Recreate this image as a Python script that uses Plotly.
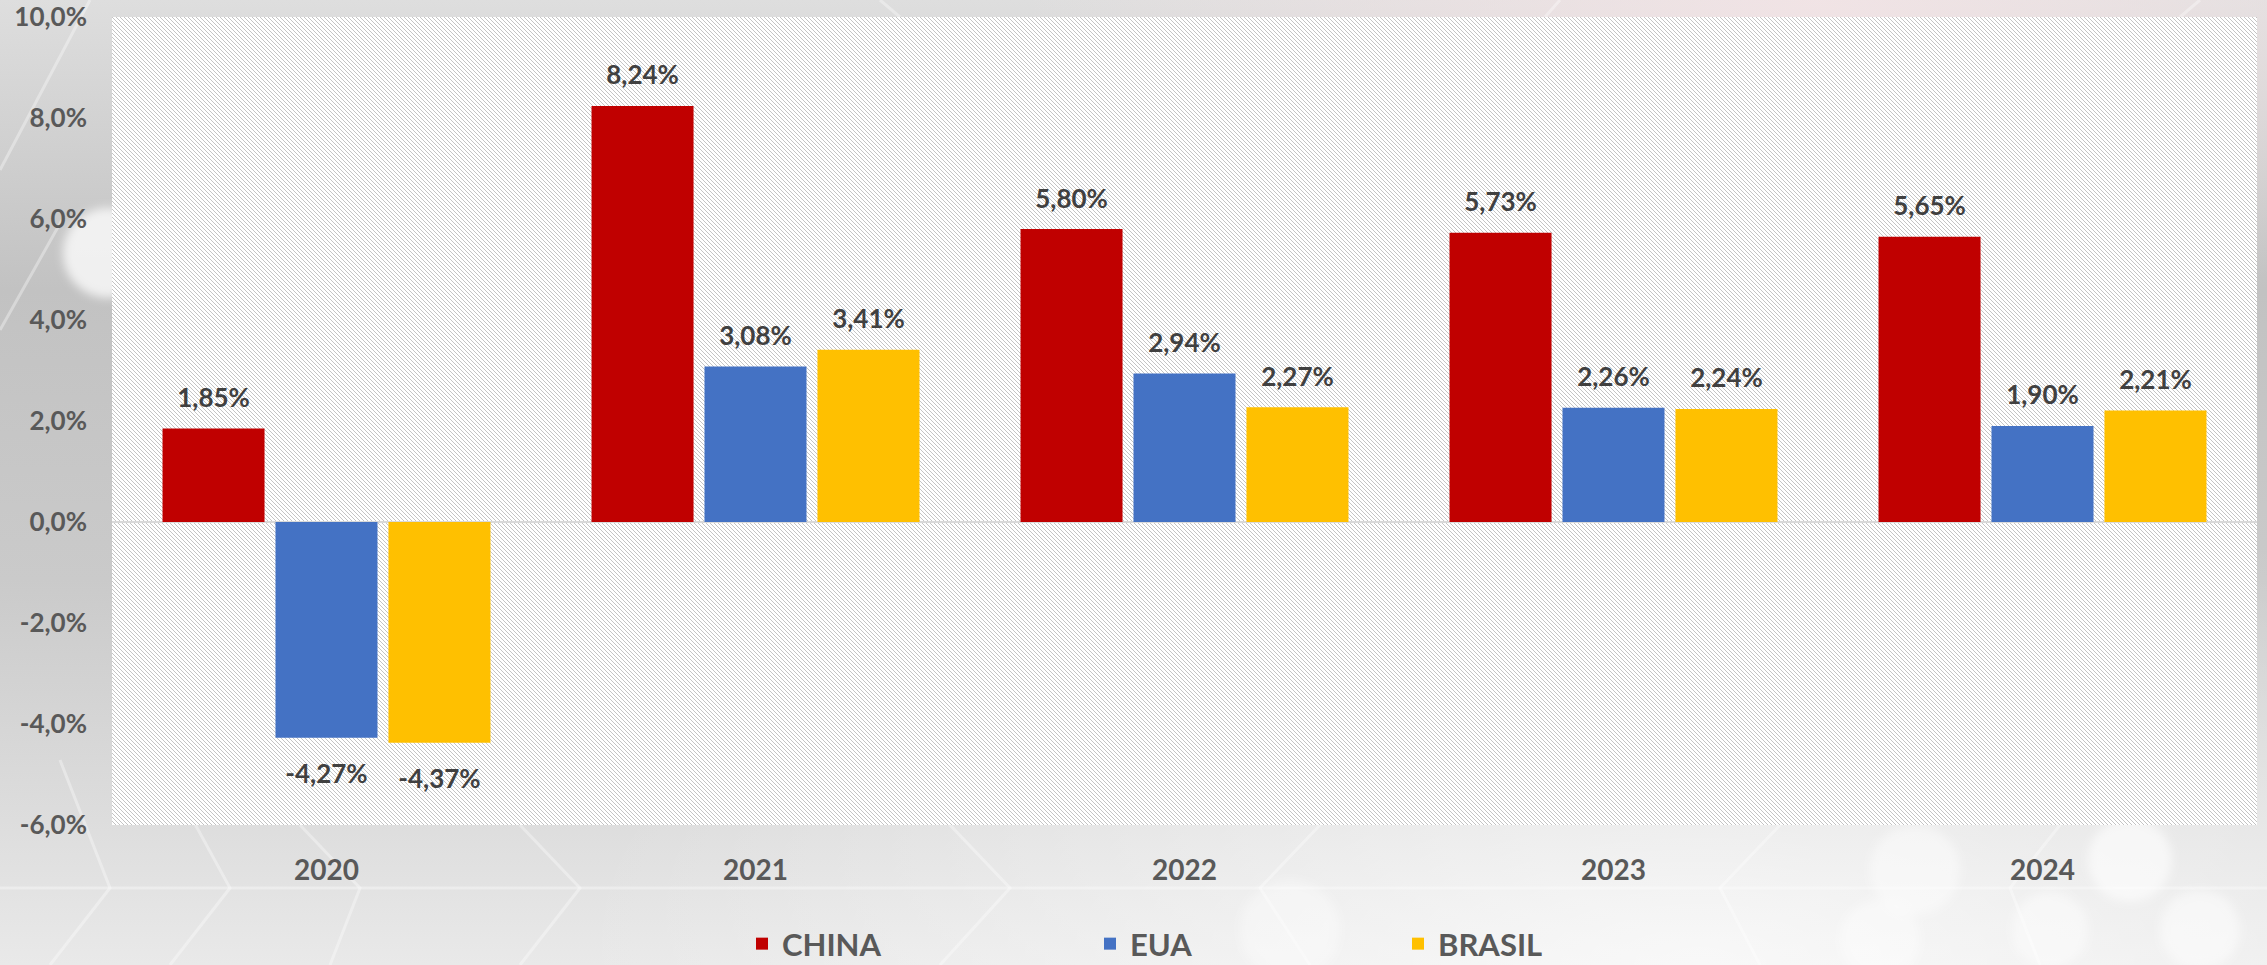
import base64
import plotly.graph_objects as go

# growth of GDP (%)
years = ["2020", "2021", "2022", "2023", "2024"]
china = [1.85, 8.24, 5.80, 5.73, 5.65]
eua = [-4.27, 3.08, 2.94, 2.26, 1.90]
brasil = [-4.37, 3.41, 2.27, 2.24, 2.21]
series = [("CHINA", china, "#C00000", "legend", 742),
          ("EUA", eua, "#4472C4", "legend2", 1090),
          ("BRASIL", brasil, "#FFC000", "legend3", 1398)]
yticks = [-6, -4, -2, 0, 2, 4, 6, 8, 10]

W, H = 2267, 965
L, R, T, B = 112, 10, 17, 140
PW, PH = W - L - R, H - T - B
FONT = "Lato"


def pct(v, d):
    return f"{v:.{d}f}%".replace(".", ",")


def bar_text(v):
    # a thin blank line on the bar side pushes the label away from the bar
    if v >= 0:
        return f"<span style='font-size:26px'>{pct(v, 2)}</span><br><span style='font-size:12px'>\u00a0</span>"
    return f"<span style='font-size:27px'>\u00a0</span><br><span style='font-size:26px'>{pct(v, 2)}</span>"


def uri(svg):
    return "data:image/svg+xml;base64," + base64.b64encode(svg.encode()).decode()


bg_svg = f"""<svg xmlns='http://www.w3.org/2000/svg' width='{W}' height='{H}'>
<defs>
<linearGradient id='v' x1='0' y1='0' x2='0' y2='1'>
<stop offset='0' stop-color='#dedede'/><stop offset='0.3' stop-color='#c2c2c2'/>
<stop offset='0.6' stop-color='#cacaca'/><stop offset='0.85' stop-color='#dddddd'/>
<stop offset='1' stop-color='#e9e9e9'/></linearGradient>
<radialGradient id='w' cx='0.75' cy='1' r='0.5'>
<stop offset='0' stop-color='#ffffff' stop-opacity='0.7'/><stop offset='1' stop-color='#ffffff' stop-opacity='0'/></radialGradient>
<radialGradient id='p' cx='0.8' cy='0' r='0.35'>
<stop offset='0' stop-color='#f3e4e6' stop-opacity='0.9'/><stop offset='1' stop-color='#f3e4e6' stop-opacity='0'/></radialGradient>
<filter id='b'><feGaussianBlur stdDeviation='5'/></filter>
</defs>
<rect width='{W}' height='{H}' fill='url(#v)'/>
<rect width='{W}' height='{H}' fill='url(#w)'/>
<rect width='{W}' height='{H}' fill='url(#p)'/>
<g stroke='#ffffff' stroke-opacity='0.35' stroke-width='3' fill='none'>
<path d='M0,888 H2267'/><path d='M90,0 L0,170'/><path d='M62,220 L0,330'/>
<path d='M60,760 L110,888 L50,965'/><path d='M160,760 L230,888 L170,965'/>
<path d='M300,825 L360,888 L330,965'/><path d='M520,825 L580,888 L520,965'/>
<path d='M950,825 L1010,888 L940,965'/><path d='M1320,825 L1260,888 L1310,965'/>
<path d='M1780,825 L1720,888 L1760,965'/><path d='M2060,825 L2010,888 L2040,965'/>
<path d='M880,0 L900,17'/><path d='M1560,0 L1545,17'/><path d='M2200,0 L2180,17'/>
</g>
<g fill='#ffffff' filter='url(#b)'>
<circle cx='108' cy='253' r='45' fill-opacity='0.75'/>
<circle cx='1915' cy='870' r='45' fill-opacity='0.45'/>
<circle cx='2130' cy='860' r='42' fill-opacity='0.6'/>
<circle cx='2200' cy='930' r='40' fill-opacity='0.5'/>
<circle cx='2050' cy='930' r='38' fill-opacity='0.45'/>
<circle cx='1290' cy='930' r='50' fill-opacity='0.35'/>
<circle cx='1880' cy='940' r='40' fill-opacity='0.4'/>
</g>
</svg>"""

hatch_svg = f"""<svg xmlns='http://www.w3.org/2000/svg' width='{PW}' height='{PH}'>
<defs><pattern id='h' width='4' height='4' patternUnits='userSpaceOnUse'>
<path d='M-1,3 L1,5 M0,0 L4,4 M3,-1 L5,1' stroke='#c4c4c4' stroke-width='1'/></pattern></defs>
<rect width='{PW}' height='{PH}' fill='#ffffff'/>
<rect width='{PW}' height='{PH}' fill='url(#h)'/>
</svg>"""

fig = go.Figure()
for name, vals, color, leg, lx in series:
    fig.add_trace(go.Bar(
        x=years, y=vals, name=name, legend=leg, showlegend=True,
        marker=dict(color=color, line=dict(width=0)),
        text=[bar_text(v) for v in vals], textposition="outside",
        textangle=0, constraintext="none", cliponaxis=False,
        textfont=dict(family=FONT, size=12, color="#404040", weight="bold"),
    ))
    fig.update_layout({leg: dict(
        orientation="h", xref="container", yref="container",
        x=lx / W, y=(H - 944) / H, xanchor="left", yanchor="middle",
        bgcolor="rgba(0,0,0,0)",
        font=dict(family=FONT, size=31, color="#595959", weight="bold"))})

fig.update_layout(
    width=W, height=H, margin=dict(l=L, r=R, t=T, b=B, autoexpand=False),
    paper_bgcolor="#d6d6d6", plot_bgcolor="#ffffff",
    barmode="group", bargap=0.21, bargroupgap=0.097,
    hovermode=False, showlegend=True,
    font=dict(family=FONT, color="#595959"),
    xaxis=dict(type="category", showgrid=False, showline=False, ticks="",
               ticklabelstandoff=26, automargin=False,
               tickfont=dict(family=FONT, size=28, color="#595959", weight="bold")),
    yaxis=dict(range=[-6, 10], tickvals=yticks, ticktext=[pct(v, 1) for v in yticks],
               showgrid=False, showline=False, ticks="", zeroline=True,
               zerolinecolor="#d9d9d9", zerolinewidth=2, ticklabelstandoff=24,
               automargin=False,
               tickfont=dict(family=FONT, size=26, color="#595959", weight="bold")),
    images=[
        dict(source=uri(bg_svg), xref="paper", yref="paper", x=-L / PW, y=1 + T / PH,
             sizex=W / PW, sizey=H / PH, xanchor="left", yanchor="top",
             sizing="stretch", layer="below"),
        dict(source=uri(hatch_svg), xref="paper", yref="paper", x=0, y=1,
             sizex=1, sizey=1, xanchor="left", yanchor="top",
             sizing="stretch", layer="below"),
    ],
)

fig.write_html("out.html", config={"displayModeBar": False},
               post_script="document.body.style.margin='0';")
